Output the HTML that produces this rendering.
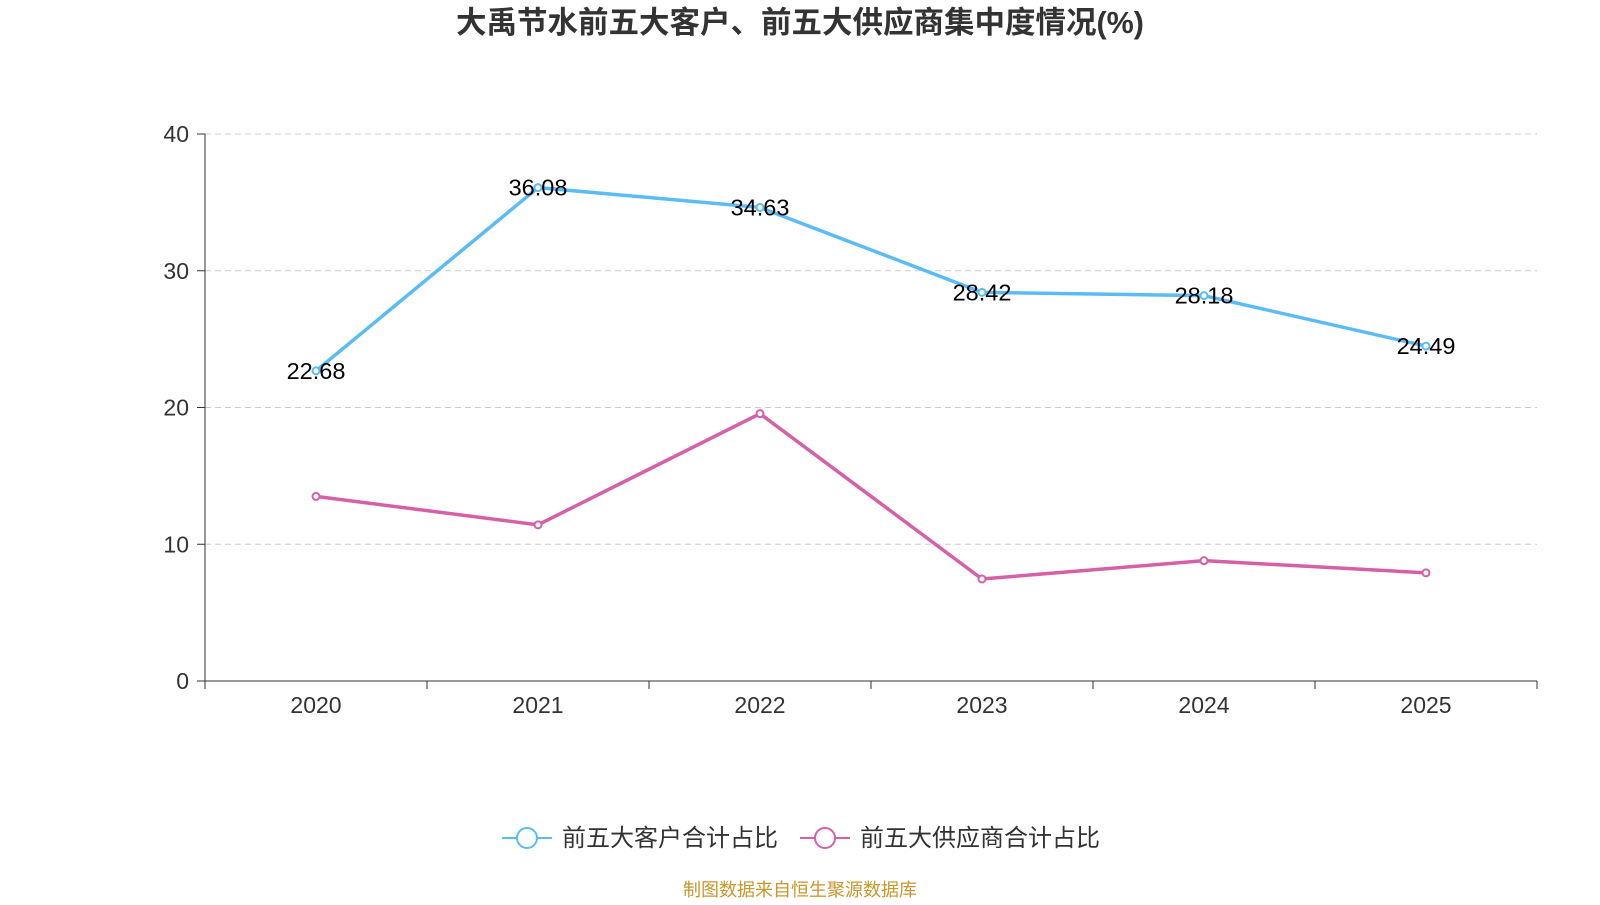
<!DOCTYPE html>
<html><head><meta charset="utf-8"><style>
body{margin:0;background:#fff;width:1600px;height:900px;overflow:hidden;font-family:"Liberation Sans","Noto Sans CJK SC",sans-serif}
</style></head><body>
<svg id="chart" width="1600" height="900" style="font-family:'Liberation Sans','Noto Sans CJK SC',sans-serif">
<text x="800" y="33" text-anchor="middle" font-size="30.5" font-weight="bold" fill="#333">大禹节水前五大客户、前五大供应商集中度情况(%)</text>
<g id="grid"></g><g id="axes"></g><g id="series"></g>
<g>
<g>
<line x1="502" y1="838" x2="552" y2="838" stroke="#5bbcf5" stroke-width="2"/><circle cx="527" cy="838" r="10" fill="#fff" stroke="#5bbcf5" stroke-width="2"/>
<text x="562" y="846" font-size="24" fill="#333">前五大客户合计占比</text></g>
<g>
<line x1="800" y1="838" x2="850" y2="838" stroke="#d660a8" stroke-width="2"/><circle cx="825" cy="838" r="10" fill="#fff" stroke="#d660a8" stroke-width="2"/>
<text x="860" y="846" font-size="24" fill="#333">前五大供应商合计占比</text></g>
</g>
<text x="800" y="896" text-anchor="middle" font-size="18" fill="#c8962a">制图数据来自恒生聚源数据库</text>
</svg>
<script>
const categories=["2020","2021","2022","2023","2024","2025"];
const customers=[22.68,36.08,34.63,28.42,28.18,24.49];
const suppliers=[13.5,11.42,19.55,7.46,8.8,7.91];
const yTicks=[0,10,20,30,40];
const NS="http://www.w3.org/2000/svg";
const L=205,R=1537,T=134,B=681,yMax=40;
const bw=(R-L)/categories.length;
const x=i=>L+bw*(i+0.5);
const y=v=>B-(v/yMax)*(B-T);
function mk(t,a,p){const e=document.createElementNS(NS,t);for(const k in a)e.setAttribute(k,a[k]);p.appendChild(e);return e;}
const grid=document.getElementById('grid'),axes=document.getElementById('axes'),ser=document.getElementById('series');
yTicks.forEach(v=>{
 if(v>0){const g=mk('line',{x1:L,x2:R,y1:y(v),y2:y(v),stroke:'#ccc','stroke-dasharray':'6,4'},grid);
 
 }
 mk('line',{x1:L-8,x2:L,y1:y(v),y2:y(v),stroke:'#333'},axes);
 const t=mk('text',{x:L-16,y:y(v)+8,'text-anchor':'end','font-size':23,fill:'#333'},axes);t.textContent=v;
 
 
});
mk('line',{x1:L,x2:L,y1:T,y2:B,stroke:'#333'},axes);
mk('line',{x1:L,x2:R,y1:B,y2:B,stroke:'#333'},axes);
for(let i=0;i<=categories.length;i++)mk('line',{x1:L+bw*i,x2:L+bw*i,y1:B,y2:B+8,stroke:'#333'},axes);
categories.forEach((c,i)=>{const t=mk('text',{x:x(i),y:B+32,'text-anchor':'middle','font-size':23,fill:'#333'},axes);t.textContent=c;
 
 });
function draw(data,color,name,labels){
 const p=mk('polyline',{points:data.map((v,i)=>x(i)+','+y(v)).join(' '),fill:'none',stroke:color,'stroke-width':3.5},ser);
 
 
 data.forEach((v,i)=>{const c=mk('circle',{cx:x(i),cy:y(v),r:3.5,fill:'#fff',stroke:color,'stroke-width':2},ser);
  
  
  if(labels){const t=mk('text',{x:x(i),y:y(v)+8,'text-anchor':'middle','font-size':23.5,fill:'#000'},ser);t.textContent=v.toFixed(2);
   
   }
 });
}
draw(customers,'#5bbcf5','customers',true);
draw(suppliers,'#d660a8','suppliers',false);
</script>
</body></html>
